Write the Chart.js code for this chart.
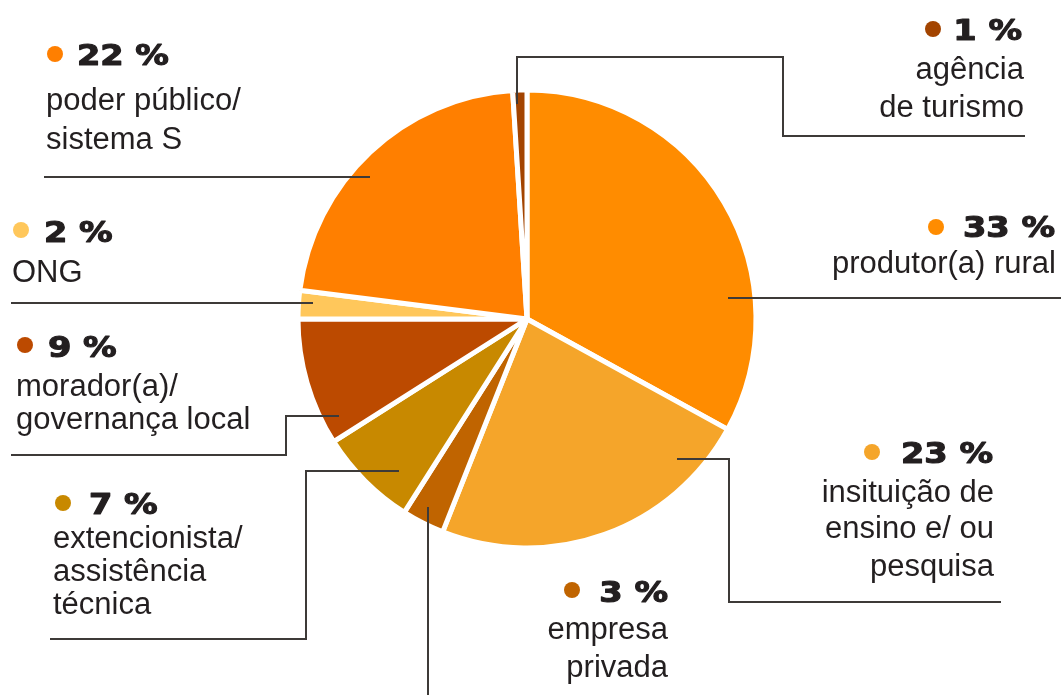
<!DOCTYPE html>
<html>
<head>
<meta charset="utf-8">
<script src="https://cdn.jsdelivr.net/npm/chart.js@4.4.1/dist/chart.umd.min.js"></script>
<style>
	html, body { margin: 0; padding: 0; background: #fff; }
	canvas { display: block; }
</style>
</head>
<body>
<canvas id="chart" width="1061" height="695"></canvas>
<script>
;(function (window, document) {

	// slices, clockwise from 12 o'clock
	var categories = [
		'produtor(a) rural',
		'insituição de\nensino e/ ou\npesquisa',
		'empresa\nprivada',
		'extencionista/\nassistência\ntécnica',
		'morador(a)/\ngovernança local',
		'ONG',
		'poder público/\nsistema S',
		'agência\nde turismo'
	];
	var values = [33, 23, 3, 7, 9, 2, 22, 1];
	var colors = ['#ff8c00', '#f5a52a', '#c06400', '#c88900', '#bc4a00', '#ffc75b', '#ff7f00', '#a34400'];

	// where each callout sits: percentage anchor, text lines, dot and leader polyline
	var callouts = [
		{ align: 'right', x: 1055, y: 237, tx: 1056, ty: [273], dot: [936, 227],
			leader: [[728, 298], [1061, 298]] },
		{ align: 'right', x: 993, y: 463, tx: 994, ty: [502, 538, 576], dot: [872, 452],
			leader: [[677, 459], [729, 459], [729, 602], [1001, 602]] },
		{ align: 'right', x: 668, y: 602, tx: 668, ty: [639, 677], dot: [572, 590],
			leader: [[428, 507], [428, 695]] },
		{ align: 'left', x: 89, y: 514, tx: 53, ty: [548, 581, 614], dot: [63, 503],
			leader: [[399, 471], [306, 471], [306, 639], [50, 639]] },
		{ align: 'left', x: 48, y: 357, tx: 16, ty: [396, 429], dot: [25, 345],
			leader: [[339, 416], [286, 416], [286, 455], [11, 455]] },
		{ align: 'left', x: 44, y: 242, tx: 12, ty: [282], dot: [21, 230],
			leader: [[11, 303], [313, 303]] },
		{ align: 'left', x: 77, y: 65, tx: 46, ty: [110, 149], dot: [55, 54],
			leader: [[44, 177], [370, 177]] },
		{ align: 'right', x: 1022, y: 40, tx: 1024, ty: [79, 117], dot: [933, 29],
			leader: [[517, 104], [517, 57], [783, 57], [783, 136], [1025, 136]] }
	];

	var ink = '#231f20';
	var lineInk = '#3d3a38';
	var bodyFont = '31px "Liberation Sans", Arial, sans-serif';
	var pctFont = 'bold 27.5px "DejaVu Sans", sans-serif';
	var pctStretch = 1.22;

	var calloutPlugin = {
		id: 'callouts',
		afterDraw: function (chart) {
			var ctx = chart.ctx;
			ctx.save();

			// leader lines go over the slices
			ctx.strokeStyle = lineInk;
			ctx.lineWidth = 2;
			ctx.lineJoin = 'miter';
			callouts.forEach(function (c) {
				ctx.beginPath();
				c.leader.forEach(function (p, i) {
					if (i == 0) ctx.moveTo(p[0], p[1]);
					else ctx.lineTo(p[0], p[1]);
				});
				ctx.stroke();
			});

			callouts.forEach(function (c, i) {
				// colour dot
				ctx.fillStyle = colors[i];
				ctx.beginPath();
				ctx.arc(c.dot[0], c.dot[1], 8, 0, Math.PI * 2);
				ctx.fill();

				// stretched, extra heavy percentage
				var pct = values[i] + ' %';
				ctx.font = pctFont;
				ctx.fillStyle = ink;
				ctx.strokeStyle = ink;
				ctx.lineWidth = 1.1;
				ctx.lineJoin = 'round';
				ctx.textAlign = 'left';
				ctx.textBaseline = 'alphabetic';
				var w = ctx.measureText(pct).width * pctStretch;
				var left = c.align == 'right' ? c.x - w : c.x;
				ctx.save();
				ctx.translate(left, c.y);
				ctx.scale(pctStretch, 1);
				ctx.fillText(pct, 0, 0);
				ctx.strokeText(pct, 0, 0);
				ctx.restore();

				// category name
				ctx.font = bodyFont;
				ctx.textAlign = c.align;
				categories[i].split('\n').forEach(function (line, j) {
					ctx.fillText(line, c.tx, c.ty[j]);
				});
			});

			ctx.restore();
		}
	};

	var ctx = document.getElementById('chart').getContext('2d');
	new Chart(ctx, {
		type: 'pie',
		data: {
			labels: categories,
			datasets: [{
				data: values,
				backgroundColor: colors,
				borderColor: '#ffffff',
				borderWidth: 5
			}]
		},
		options: {
			responsive: false,
			animation: false,
			layout: {
				padding: { left: 295.5, right: 302.5, top: 87.5, bottom: 144.5 }
			},
			plugins: {
				legend: { display: false },
				tooltip: { enabled: false }
			}
		},
		plugins: [calloutPlugin]
	});

})(window, document);
</script>
</body>
</html>
